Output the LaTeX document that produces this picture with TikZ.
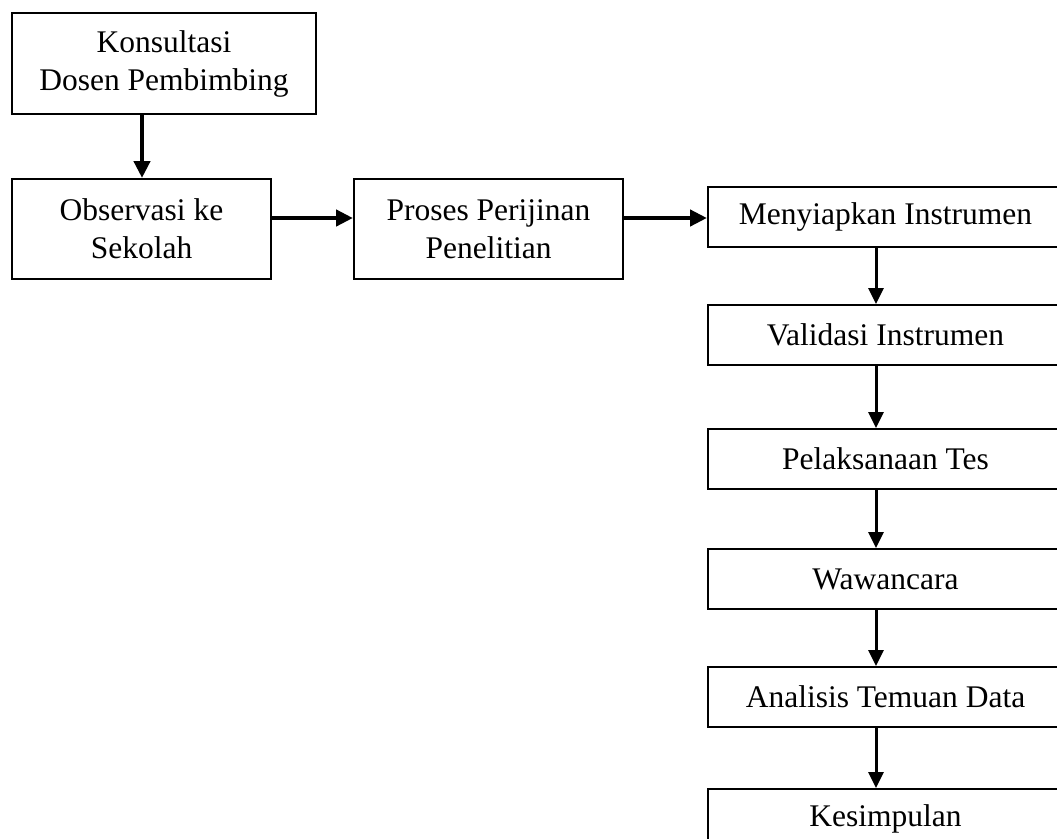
\documentclass[tikz,border=0pt]{standalone}
\usepackage{fontspec}
\setmainfont{Liberation Serif}
\usetikzlibrary{arrows.meta}
\begin{document}
\begin{tikzpicture}[x=1pt,y=-1pt,
  box/.style={draw, line width=2pt, anchor=north west, align=center, inner sep=0pt,
    font=\fontsize{31.5}{38}\selectfont},
  thickarrow/.style={line width=4.5pt, -{Triangle[width=16pt,length=17pt]}},
  thinarrow/.style={line width=3pt, -{Triangle[width=15pt,length=16pt]}}]
\useasboundingbox (0,0) rectangle (1057,838);
\node[box, minimum width=304pt, minimum height=101pt] (k) at (11,12) {Konsultasi\\Dosen Pembimbing};
\node[box, minimum width=259pt, minimum height=100pt] (o) at (11,178) {Observasi ke\\Sekolah};
\node[box, minimum width=269pt, minimum height=100pt] (p) at (353,178) {Proses Perijinan\\Penelitian};
\node[box, minimum width=355pt, minimum height=60pt] (m) at (707,186) {Menyiapkan Instrumen};
\node[box, minimum width=355pt, minimum height=60pt] (v) at (707,304) {Validasi Instrumen};
\node[box, minimum width=355pt, minimum height=60pt] (t) at (707,428) {Pelaksanaan Tes};
\node[box, minimum width=355pt, minimum height=60pt] (w) at (707,548) {Wawancara};
\node[box, minimum width=355pt, minimum height=60pt] (a) at (707,666) {Analisis Temuan Data};
\node[box, minimum width=355pt, minimum height=60pt] (s) at (707,788) {Kesimpulan};
\coordinate (kx) at (142,0);
\coordinate (hy) at (0,218);
\coordinate (cx) at (876,0);
\draw[thickarrow] (k.south -| kx) -- (o.north -| kx);
\draw[thickarrow] (o.east |- hy) -- (p.west |- hy);
\draw[thickarrow] (p.east |- hy) -- (m.west |- hy);
\draw[thinarrow] (m.south -| cx) -- (v.north -| cx);
\draw[thinarrow] (v.south -| cx) -- (t.north -| cx);
\draw[thinarrow] (t.south -| cx) -- (w.north -| cx);
\draw[thinarrow] (w.south -| cx) -- (a.north -| cx);
\draw[thinarrow] (a.south -| cx) -- (s.north -| cx);
\end{tikzpicture}
\end{document}
